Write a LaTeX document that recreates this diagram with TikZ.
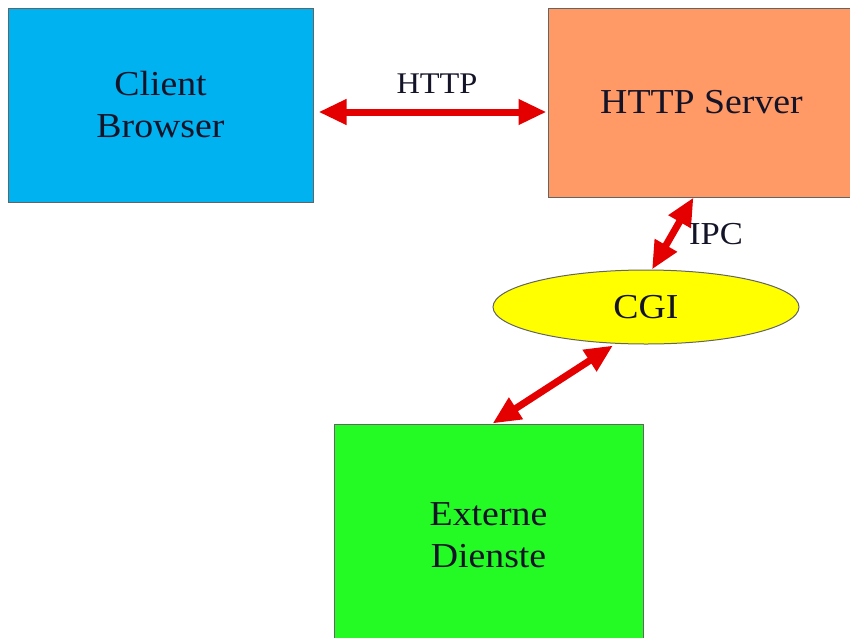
\documentclass[tikz,border=0pt]{standalone}
\usepackage{fontspec}
\setmainfont{Liberation Serif}[FakeStretch=1.08]
\usepackage{xcolor}
\usetikzlibrary{calc, arrows.meta, positioning, shapes.geometric}

\definecolor{clientblue}{RGB}{0,178,240}
\definecolor{serverorange}{RGB}{255,153,102}
\definecolor{cgiyellow}{RGB}{255,255,0}
\definecolor{externgreen}{RGB}{36,250,36}
\definecolor{linkred}{RGB}{228,0,0}
\definecolor{edgegray}{RGB}{100,100,100}
\definecolor{textdark}{RGB}{20,20,40}

\begin{document}
\begin{tikzpicture}[
    x=1pt, y=-1pt,
    every node/.style={font=\fontsize{35}{42}\selectfont, text=textdark},
    block/.style={draw=edgegray, line width=1pt, align=center, inner sep=0pt},
    service/.style={draw=edgegray, line width=1pt, shape=ellipse, fill=cgiyellow,
      minimum width=306pt, minimum height=74pt, inner sep=0pt},
    link/.style={draw=linkred, line width=7pt,
      {Triangle[length=28pt, width=24pt]}-{Triangle[length=28pt, width=24pt]}},
    lbl/.style={inner sep=0pt},
  ]
  \useasboundingbox (0,0) rectangle (850,637);
  \node[block, fill=clientblue, minimum width=305pt, minimum height=194pt]
    (client) at (160.5,105) {Client\\Browser};
  \node[block, fill=serverorange, minimum width=307pt, minimum height=189pt]
    (server) at (701.5,102.5) {HTTP Server};
  \node[service] (cgi) at (646,307) {CGI};
  \node[block, fill=externgreen, minimum width=309pt, minimum height=222pt]
    (extern) at (488.5,535) {Externe\\Dienste};

  \draw[link] ($(client.east |- 0,112)+(5,0)$) -- ($(server.west |- 0,112)+(-1,0)$);
  \draw[link] ($(cgi.north)+(6,0)$) -- ($(server.south)+(-8,0)$);
  \draw[link] ($(cgi.south)+(-33,1)$) -- ($(extern.north)+(4,0)$);

  \node[lbl, font=\fontsize{30}{34}\selectfont] (lblhttp) at (437,84) {HTTP};
  \node[lbl, font=\fontsize{32}{36}\selectfont] (lblipc) at (716,234) {IPC};
\end{tikzpicture}
\end{document}
